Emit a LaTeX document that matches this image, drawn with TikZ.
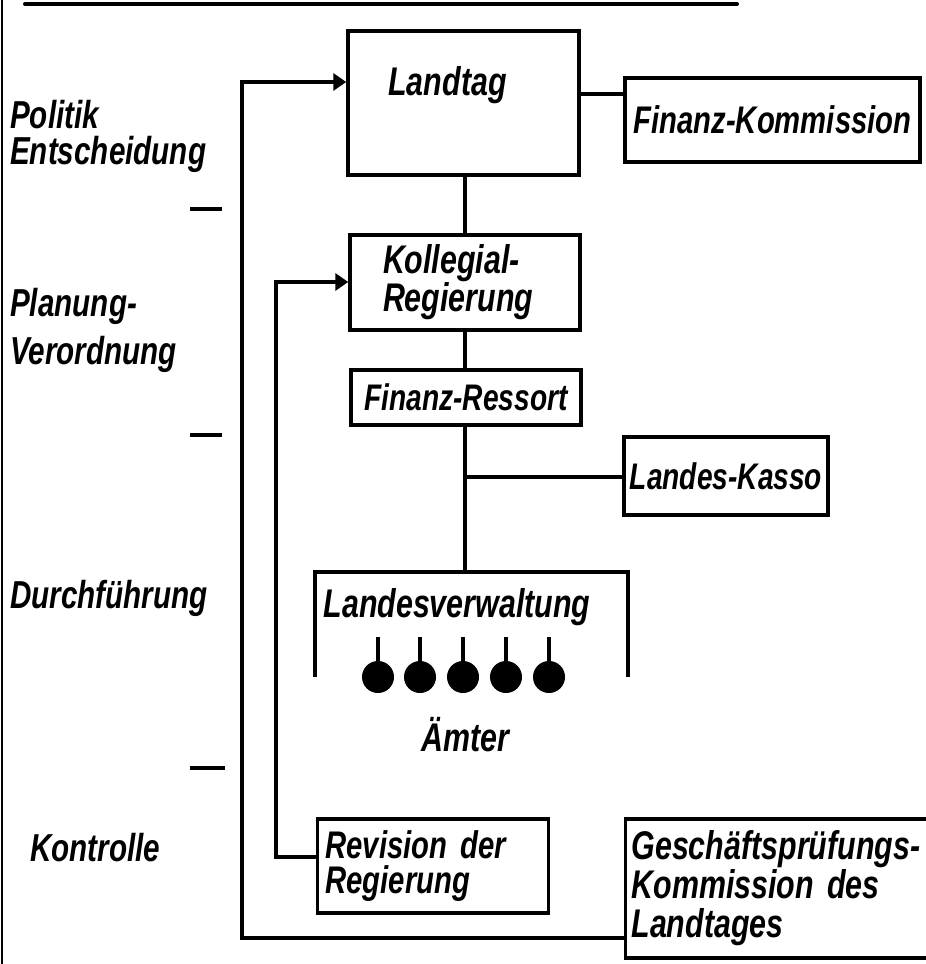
\documentclass[tikz,border=0pt]{standalone}
\usepackage{fontspec}
\newfontfamily\hand[FakeStretch=0.76]{Liberation Sans}
\usetikzlibrary{arrows.meta}
\begin{document}
\begin{tikzpicture}[x=1pt,y=-1pt,
  every node/.style={font=\hand\bfseries\itshape\fontsize{40}{40}\selectfont, inner sep=0pt},
  mid/.style={font=\hand\bfseries\itshape\fontsize{37}{37}\selectfont},
  box/.style={draw, line width=3.5pt},
  conn/.style={line width=3.5pt},
  arr/.style={conn, -{Triangle[length=13pt,width=17pt]}},
  lbl/.style={anchor=west, align=left, font=\hand\bfseries\itshape\fontsize{39}{36}\selectfont},
  dot/.style={circle, fill, minimum size=32pt},
]
\useasboundingbox (0,0) rectangle (926,964);
% frame lines
\draw[line width=1.5pt] (2,0) -- (2,964);
\draw[line width=4pt, line cap=round] (25,4) -- (737,4);

% left labels
\node[lbl] (l1) at (10,136) {Politik\\Entscheidung};
\node[lbl, font=\hand\bfseries\itshape\fontsize{39}{48}\selectfont] (l2) at (10,330) {Planung-\\Verordnung};
\node[lbl] (l3) at (10,598) {Durchführung};
\node[lbl] (l4) at (30,848) {Kontrolle};
\draw[line width=4pt] (190,209) -- (222,209);
\draw[line width=4pt] (190,435) -- (222,435);
\draw[line width=4pt] (190,768) -- (225,768);

% boxes
\node[box, minimum width=231pt, minimum height=144pt] (landtag) at (463.5,103)
  {\raisebox{8pt}[0pt][0pt]{Landtag}\kern32pt};
\node[box, mid, font=\hand\bfseries\itshape\fontsize{38.5}{38}\selectfont, minimum width=295pt, minimum height=84pt] (fk) at (772.5,120) {Finanz-Kommission};
\node[box, align=left, text width=164pt, inner xsep=33pt, minimum height=95pt,
  font=\hand\bfseries\itshape\fontsize{40}{35}\selectfont] (kr) at (465,282.5) {Kollegial-\\Regierung};
\node[box, mid, minimum width=230pt, minimum height=55pt] (fr) at (466,397.5) {Finanz-Ressort};
\node[box, mid, minimum width=204pt, minimum height=78pt] (lk) at (726,476) {Landes-Kasso};
\node[box, align=left, text width=215pt, inner xsep=8pt, minimum height=94pt,
  font=\hand\bfseries\itshape\fontsize{38.5}{35}\selectfont] (rev) at (433,866) {Revision der\\Regierung};
\node[align=left, text width=295pt, inner xsep=6pt, minimum height=139pt,
  font=\hand\bfseries\itshape\fontsize{40}{39}\selectfont] (gpk) at (779,888.5)
  {Geschäftsprüfungs-\\Kommission des\\Landtages};
\coordinate (edge) at (926,0);
\draw[conn] (gpk.north west -| edge) -- (gpk.north west) -- (gpk.south west) -- (gpk.south west -| edge);

% Landesverwaltung
\node (lv) at (457,607) {Landesverwaltung};
\node (amt) at (465,735) {Ämter};
\coordinate (lvtop) at (465,572);
\coordinate (bl) at (315,677);
\coordinate (br) at (628,677);
\draw[conn] (bl) -- (bl |- lvtop) -- (br |- lvtop) -- (br);
\foreach \i/\x in {1/378,2/420,3/463,4/506,5/549}{
  \node[dot] (a\i) at (\x,677) {};
  \draw[conn] (\x,637) -- (a\i.north);
}

% connectors
\coordinate (fkline) at (0,94);
\draw[conn] (landtag.east |- fkline) -- (fk.west |- fkline);
\draw[conn] (landtag.south -| kr.north) -- (kr.north);
\draw[conn] (kr.south) -- (kr.south |- fr.north);
\coordinate (jn) at (465,477);
\draw[conn] (fr.south -| lvtop) -- (lvtop);
\draw[conn] (jn) -- (lk.west |- jn);

\coordinate (o1) at (242,938);
\coordinate (o2) at (242,82);
\draw[arr] (gpk.west |- o1) -- (o1) -- (o2) -- (landtag.west |- o2);
\coordinate (i1) at (276,857);
\coordinate (i2) at (276,282);
\draw[arr] (rev.west |- i1) -- (i1) -- (i2) -- (kr.west |- i2);
\end{tikzpicture}
\end{document}
